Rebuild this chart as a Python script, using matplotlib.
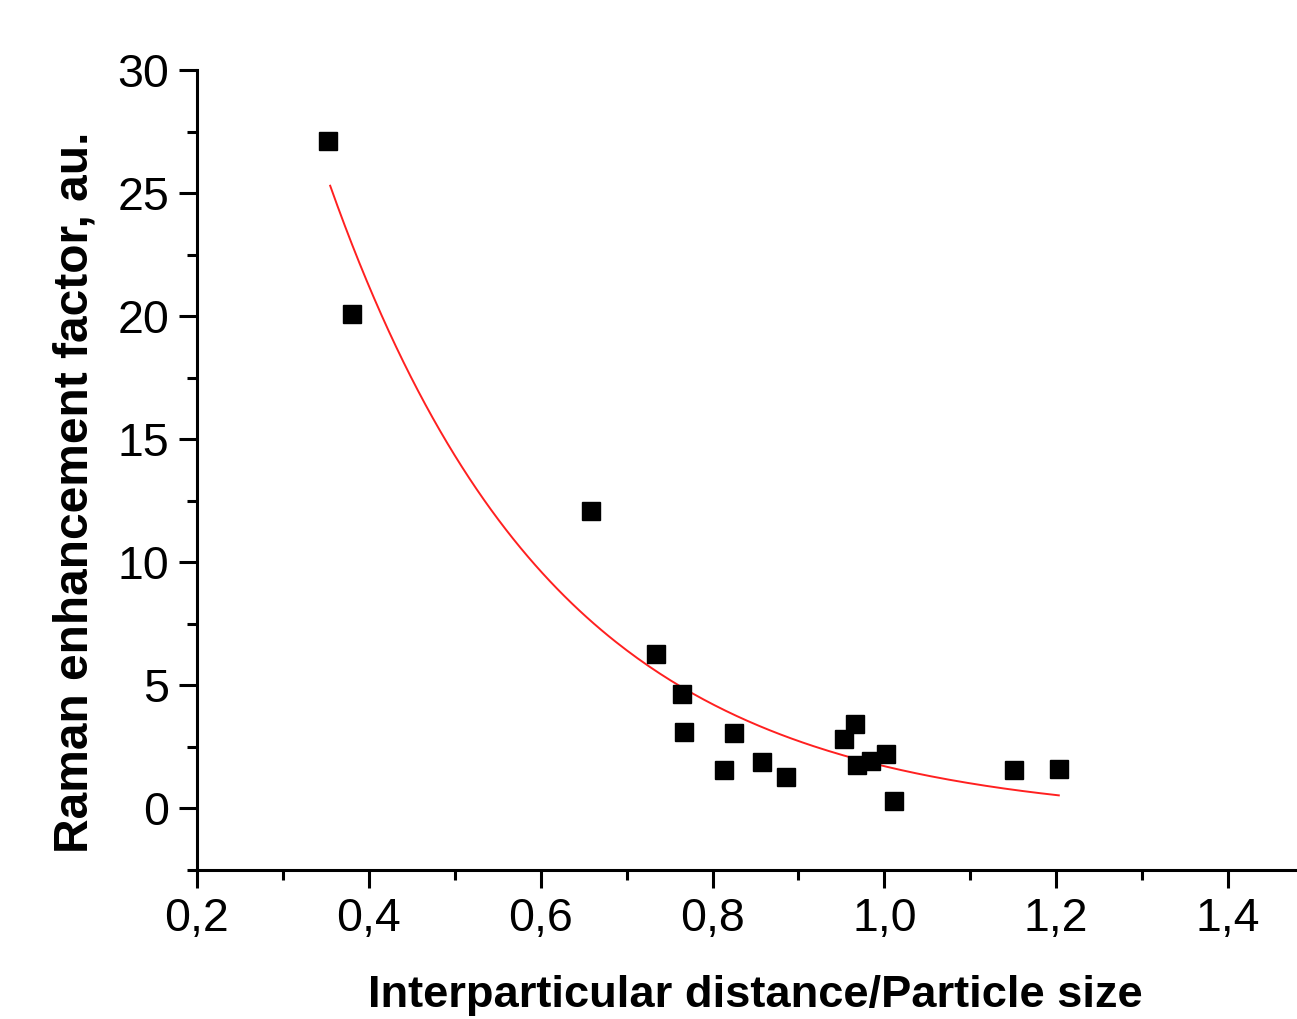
import numpy as np
import matplotlib
matplotlib.use("Agg")
import matplotlib.pyplot as plt
from matplotlib.ticker import MultipleLocator, FuncFormatter

plt.rcParams['font.family'] = ['Liberation Sans', 'DejaVu Sans']

# measured points
ratio = [0.353, 0.380, 0.659, 0.734, 0.764, 0.767, 0.813, 0.825, 0.857, 0.886,
         0.953, 0.966, 0.968, 0.984, 1.002, 1.011, 1.151, 1.203]
enhancement = [27.1, 20.1, 12.07, 6.25, 4.62, 3.08, 1.56, 3.06, 1.88, 1.25,
               2.79, 3.40, 1.76, 1.90, 2.18, 0.28, 1.54, 1.60]

# exponential decay fit y = y0 + A*exp(-x/t)
fit_y0 = -0.5
fit_A = 100.0
fit_t = 0.262
fit_range = (0.355, 1.203)

fig = plt.figure(figsize=(12.97, 10.19), dpi=100)
ax_h = 869.5 - 70
ax_w = 1314 - 197
ax = fig.add_axes([197 / 1297, 1 - 869.5 / 1019, ax_w / 1297, ax_h / 1019])

xs = np.linspace(fit_range[0], fit_range[1], 200)
ax.plot(xs, fit_y0 + fit_A * np.exp(-xs / fit_t), color='#ff2020', lw=1.4, zorder=2)
ax.plot(ratio, enhancement, 's', color='black', markersize=13.5, zorder=3)

ax.set_xlim(0.2, 1.5)
ax.set_ylim(-2.5, 30)
ax.set_xticks(np.arange(0.2, 1.41, 0.2))
ax.xaxis.set_minor_locator(MultipleLocator(0.1))
ax.yaxis.set_major_locator(MultipleLocator(5))
ax.yaxis.set_minor_locator(MultipleLocator(2.5))
ax.xaxis.set_major_formatter(FuncFormatter(lambda v, p: f"{v:.1f}".replace('.', ',')))
ax.yaxis.set_major_formatter(FuncFormatter(lambda v, p: f"{v:.0f}"))

for s in ['top', 'right']:
    ax.spines[s].set_visible(False)
for s in ['left', 'bottom']:
    ax.spines[s].set_linewidth(2.2)

ax.tick_params(which='major', length=13, width=2.2, labelsize=33.5, pad=7)
ax.tick_params(which='minor', length=7, width=2.2)

ax.set_xlabel("Interparticular distance/Particle size", fontsize=32.6, fontweight='bold', va='center')
ax.set_ylabel("Raman enhancement factor, au.", fontsize=34.5, fontweight='bold', va='center')
ax.xaxis.set_label_coords((755 - 197) / ax_w, -(995 - 869.5) / ax_h)
ax.yaxis.set_label_coords((75 - 197) / ax_w, (869.5 - 492.5) / ax_h)

fig.savefig("out.png", dpi=100, facecolor='white')
